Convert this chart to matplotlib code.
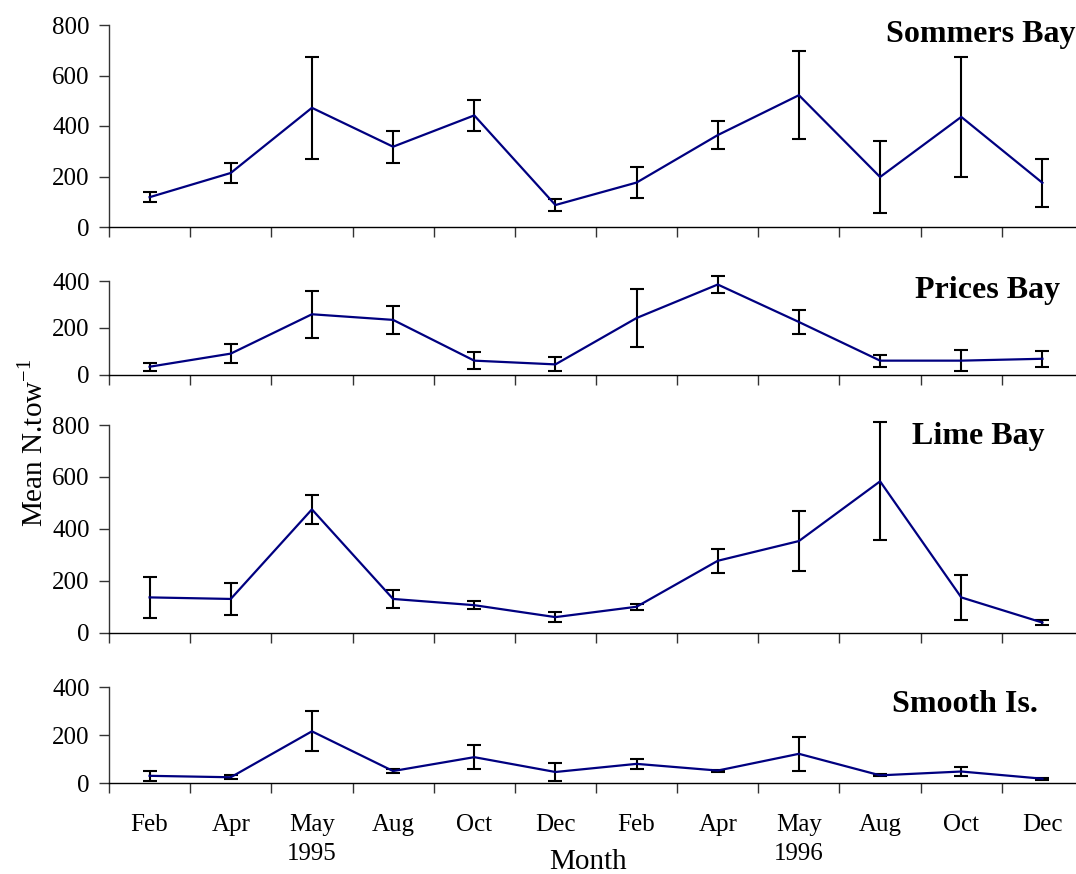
import numpy as np
import matplotlib
matplotlib.use("Agg")
from matplotlib import pyplot as plt

plt.rcParams['font.family'] = ['Liberation Serif', 'DejaVu Serif']
plt.rcParams['mathtext.fontset'] = 'custom'
plt.rcParams['mathtext.rm'] = 'Liberation Serif'

months = ['Feb', 'Apr', 'May\n1995', 'Aug', 'Oct', 'Dec',
          'Feb', 'Apr', 'May\n1996', 'Aug', 'Oct', 'Dec']

sites = ['Sommers Bay', 'Prices Bay', 'Lime Bay', 'Smooth Is.']

sommers_mean = [118, 214, 472, 318, 442, 87, 176, 364, 522, 198, 436, 175]
sommers_err = [20, 40, 202, 63, 60, 24, 60, 56, 174, 142, 237, 95]

prices_mean = [34, 90, 258, 234, 60, 44, 242, 385, 225, 60, 60, 68]
prices_err = [17, 40, 100, 61, 35, 30, 122, 38, 53, 26, 44, 35]

lime_mean = [136, 130, 475, 130, 106, 60, 100, 277, 353, 583, 136, 39]
lime_err = [78, 62, 55, 35, 16, 20, 12, 47, 117, 227, 88, 8]

smooth_mean = [30, 24, 216, 50, 108, 46, 80, 52, 122, 32, 48, 18]
smooth_err = [20, 8, 84, 8, 50, 37, 20, 4, 72, 4, 17, 4]

means = [sommers_mean, prices_mean, lime_mean, smooth_mean]
errs = [sommers_err, prices_err, lime_err, smooth_err]
ymax = [800, 400, 800, 400]
ystep = [200, 200, 200, 200]

W, H = 1076, 874
fig = plt.figure(figsize=(W / 100, H / 100), dpi=100)

# panel extents in pixels (top, bottom)
left_px, right_px = 109, 1083
panels_px = [(25, 227), (281, 374.7), (425, 632.7), (687.3, 783)]
title_pos = [(0.992, 0.955), (0.977, 0.902), (0.961, 0.947), (0.954, 0.82)]

x = np.arange(1, len(months) + 1)
spine_col = '#333333'

for i, (top, bot) in enumerate(panels_px):
    ax = fig.add_axes([left_px / W, 1 - bot / H, (right_px - left_px) / W, (bot - top) / H])
    eb = ax.errorbar(x, means[i], yerr=errs[i], fmt='none', ecolor='black',
                     elinewidth=1.5, capsize=5, capthick=1.5, zorder=2)
    for art in eb.lines[1] + eb.lines[2]:
        art.set_clip_on(False)
    ax.plot(x, means[i], color='#000080', lw=1.6, zorder=3, clip_on=False)
    ax.set_xlim(0.5, len(months) + 0.5)
    ax.set_ylim(0, ymax[i])
    ax.set_yticks(np.arange(0, ymax[i] + 1, ystep[i]))
    ax.set_xticks(np.arange(0.5, len(months) + 1, 1.0))
    ax.set_xticklabels([])
    ax.set_xticks(x, minor=True)
    ax.tick_params(axis='x', which='minor', length=0)
    if i == 3:
        ax.set_xticklabels(months, minor=True)
        for lbl in ax.get_xticklabels(minor=True):
            lbl.set_linespacing(1.45)
    ax.tick_params(axis='x', which='major', direction='out', length=7, width=1, color=spine_col)
    ax.tick_params(axis='x', which='minor', labelsize=18, pad=22)
    ax.tick_params(axis='y', direction='out', length=7, width=1, color=spine_col,
                   labelsize=18, pad=7)
    for s in ['top', 'right']:
        ax.spines[s].set_visible(False)
    for s in ['left', 'bottom']:
        ax.spines[s].set_color(spine_col)
        ax.spines[s].set_linewidth(1.0)
    ax.spines['bottom'].set_color('black')
    ax.patch.set_visible(False)
    ax.text(title_pos[i][0], title_pos[i][1], sites[i], transform=ax.transAxes,
            ha='right', va='center', fontsize=23, fontweight='bold')

fig.text(588 / W, 1 - 862 / H, 'Month', ha='center', va='center', fontsize=21)
fig.text(33 / W, 1 - 443 / H, r'Mean N.tow$^{\mathregular{-1}}$', ha='center', va='center',
         rotation=90, fontsize=21)

fig.savefig('out.png', dpi=100)
